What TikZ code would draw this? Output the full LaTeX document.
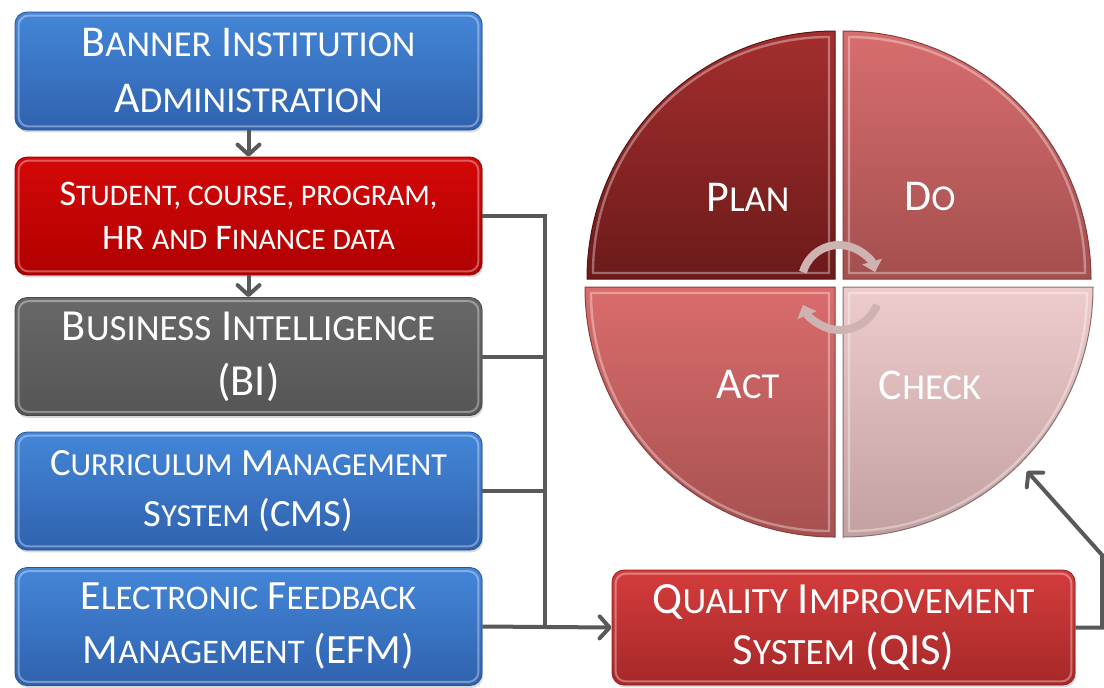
\documentclass[tikz,border=0pt]{standalone}
\usepackage{fontspec}
\setmainfont{Carlito}
\usetikzlibrary{arrows.meta,shadows}

\definecolor{bluetop}{HTML}{4486D8}
\definecolor{bluebot}{HTML}{2F62AE}
\definecolor{redtop}{HTML}{D40808}
\definecolor{redbot}{HTML}{B00000}
\definecolor{greytop}{HTML}{686868}
\definecolor{greybot}{HTML}{555555}
\definecolor{qistop}{HTML}{D43C3C}
\definecolor{qisbot}{HTML}{A62828}
\definecolor{plantop}{HTML}{A42E2E}
\definecolor{planbot}{HTML}{6C1A1A}
\definecolor{dotop}{HTML}{D86E6E}
\definecolor{dobot}{HTML}{A44E4E}
\definecolor{acttop}{HTML}{DA6C6C}
\definecolor{actbot}{HTML}{A65050}
\definecolor{checktop}{HTML}{EECCCC}
\definecolor{checkbot}{HTML}{C2A0A0}
\definecolor{linegrey}{HTML}{595959}
\definecolor{cycfill}{HTML}{CFB2B2}

% fake small capitals: lower-case letters as reduced capitals
\newcommand\lc[1]{\scalebox{0.83}{\MakeUppercase{#1}}}

\tikzset{
  box/.style n args={2}{rectangle, rounded corners=6pt, inner sep=0pt,
    text=white, align=center, top color=#1, bottom color=#2,
    draw=#2!85!black, line width=0.4pt,
    drop shadow={shadow xshift=0.6pt, shadow yshift=-1.2pt, opacity=0.3},
    path picture={\draw[white, opacity=0.35, line width=1pt, rounded corners=5pt]
      ([shift={(1.8pt,1.8pt)}]path picture bounding box.south west) rectangle
      ([shift={(-1.8pt,-1.8pt)}]path picture bounding box.north east);}},
  leftbox/.style={minimum width=233.5pt, minimum height=59pt},
  conn/.style={draw=linegrey, line width=2pt},
  tip/.style={-{Straight Barb[length=5pt,width=11pt,round]}},
  bevel/.style={draw=white, opacity=0.35, line width=1.2pt},
  quad/.style={text=white, font=\fontsize{22}{26}\selectfont},
  cyc/.style={draw=cycfill, line width=4pt, -{Triangle[length=5.5pt,width=10pt]}},
}

\begin{document}
\begin{tikzpicture}[x=0.5pt,y=0.5pt]
\useasboundingbox (0,0) rectangle (1104,-687);

% left column of systems
\node[box={bluetop}{bluebot}, leftbox, font=\fontsize{22}{28}\selectfont]
  (b1) at (248.5,-71) {B\lc{anner} I\lc{nstitution}\\A\lc{dministration}};
\node[box={redtop}{redbot}, leftbox, font=\fontsize{18}{22}\selectfont]
  (b2) at (248.5,-216) {S\lc{tudent, course, program,}\\HR \lc{and} F\lc{inance data}};
\node[box={greytop}{greybot}, leftbox, font=\fontsize{22.2}{27.5}\selectfont]
  (b3) at (248.5,-356.5) {B\lc{usiness} I\lc{ntelligence}\\(BI)};
\node[box={bluetop}{bluebot}, leftbox, font=\fontsize{19.3}{25.5}\selectfont]
  (b4) at (248.5,-491) {C\lc{urriculum} M\lc{anagement}\\S\lc{ystem} (CMS)};
\node[box={bluetop}{bluebot}, leftbox, font=\fontsize{20.8}{27}\selectfont]
  (b5) at (248.5,-626.5) {E\lc{lectronic} F\lc{eedback}\\M\lc{anagement} (EFM)};

% quality improvement system
\node[box={qistop}{qisbot}, minimum width=231.5pt, minimum height=57.5pt,
  font=\fontsize{22.3}{25.5}\selectfont]
  (qis) at (843.5,-627.5) {Q\lc{uality} I\lc{mprovement}\\S\lc{ystem} (QIS)};

% PDCA wheel: four quarter discs
\shade[top color=plantop, bottom color=planbot, draw=planbot!80!black, line width=0.5pt]
  (835,-279) -- ++(-248,0) arc[start angle=180, end angle=90, radius=248] -- cycle;
\shade[top color=dotop, bottom color=dobot, draw=dobot!80!black, line width=0.5pt]
  (843,-279) -- ++(0,248) arc[start angle=90, end angle=0, radius=248] -- cycle;
\shade[top color=acttop, bottom color=actbot, draw=actbot!80!black, line width=0.5pt]
  (835,-287) -- ++(-250,0) arc[start angle=180, end angle=270, radius=250] -- cycle;
\shade[top color=checktop, bottom color=checkbot, draw=checkbot!70!black, line width=0.5pt]
  (843,-287) -- ++(250,0) arc[start angle=0, end angle=-90, radius=250] -- cycle;

% bevel highlights
\draw[bevel] (829,-273) -- ++(-236,0) arc[start angle=180, end angle=90, radius=236] -- cycle;
\draw[bevel] (849,-273) -- ++(0,236) arc[start angle=90, end angle=0, radius=236] -- cycle;
\draw[bevel] (829,-293) -- ++(-238,0) arc[start angle=180, end angle=270, radius=238] -- cycle;
\draw[bevel] (849,-293) -- ++(238,0) arc[start angle=0, end angle=-90, radius=238] -- cycle;

\node[quad] (plan)  at (748,-197) {P\lc{lan}};
\node[quad] (do)    at (930,-197) {D\lc{o}};
\node[quad] (act)   at (748,-385) {A\lc{ct}};
\node[quad] (check) at (930,-385) {C\lc{heck}};

% cycle arrows at the hub
\draw[cyc] (839,-282.5) ++(164:37.5) arc[start angle=164, end angle=16, radius=37.5];
\draw[cyc] (840,-290) ++(-22:40) arc[start angle=-22, end angle=-158, radius=40];

% connectors
\coordinate (bus) at (545,-216);
\coordinate (rc) at (1102,-555);
\coordinate (hit) at (1027,-471);

\draw[conn, tip] (b1.south) -- (b2.north);
\draw[conn, tip] (b2.south) -- (b3.north);
\draw[conn] (b2.east) -- (bus) -- (bus |- b5.east);
\draw[conn] (b3.east) -- (b3.east -| bus);
\draw[conn] (b4.east) -- (b4.east -| bus);
\draw[conn, tip] (b5.east) -- (qis.west);
\draw[conn, tip] (qis.east) -| (rc) -- (hit);
\end{tikzpicture}
\end{document}
